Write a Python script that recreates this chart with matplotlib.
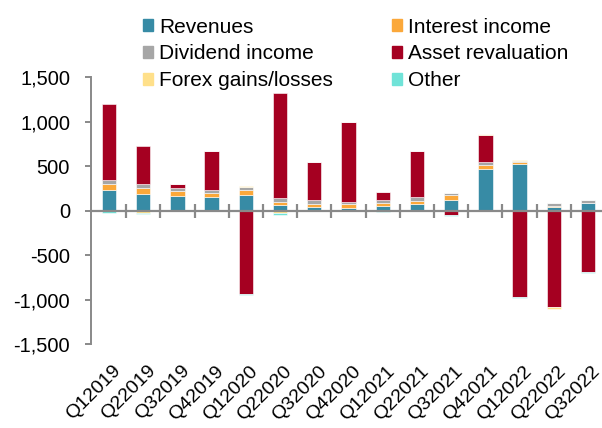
import matplotlib
matplotlib.use("Agg")
import matplotlib.pyplot as plt
import matplotlib.transforms as mtransforms
import numpy as np
from matplotlib.ticker import FuncFormatter, FixedLocator
from matplotlib.patches import Patch

plt.rcParams['font.family'] = ['Liberation Sans', 'DejaVu Sans']
plt.rcParams['axes.unicode_minus'] = False

quarters = ["Q12019", "Q22019", "Q32019", "Q42019", "Q12020", "Q22020", "Q32020",
            "Q42020", "Q12021", "Q22021", "Q32021", "Q42021", "Q12022", "Q22022", "Q32022"]

revenues = [234, 192, 169, 155, 181, 64, 41, 30, 53, 72, 124, 471, 531, 45, 90]
interest = [71, 64, 53, 48, 49, 38, 38, 42, 30, 37, 49, 45, 19, 5, 3]
dividend = [45, 49, 34, 31, 33, 45, 38, 30, 41, 45, 27, 34, 11, 38, 27]
asset_reval = [855, 421, 45, 443, -935, 1182, 436, 892, 83, 523, -49, 300, -972, -1084, -686]
forex = [-5, -25, 0, 0, 10, -30, 0, 0, 0, 0, 0, 8, 5, -20, 0]
other = [-15, -15, 0, 0, -8, -15, 0, 0, -10, 0, -8, 0, -8, 0, -8]

series = [
    ("Revenues", revenues, "#378BA5"),
    ("Interest income", interest, "#FBA83A"),
    ("Dividend income", dividend, "#A6A6A6"),
    ("Asset revaluation", asset_reval, "#A50021"),
    ("Forex gains/losses", forex, "#FFE08A"),
    ("Other", other, "#70E3D8"),
]

fig_w, fig_h = 6.02, 4.28
ax_rect = [0.151, 0.1956, 0.849, 0.6238]
fig = plt.figure(figsize=(fig_w, fig_h), dpi=100)
ax = fig.add_axes(ax_rect)

x = np.arange(len(quarters))
pos_base = np.zeros(len(quarters))
neg_base = np.zeros(len(quarters))
width = 0.42
for name, vals, col in series:
    v = np.array(vals, dtype=float)
    bottoms = np.where(v >= 0, pos_base, neg_base)
    ax.bar(x, v, width, bottom=bottoms, color=col, edgecolor='white', linewidth=0.4, zorder=2)
    pos_base = pos_base + np.where(v > 0, v, 0)
    neg_base = neg_base + np.where(v < 0, v, 0)

ymin, ymax = -1500, 1500
ax.set_ylim(ymin, ymax)
ax.set_xlim(-0.53, 14.41)
ax.set_yticks(np.arange(-1500, 1501, 500))
ax.yaxis.set_major_formatter(FuncFormatter(lambda v, p: f"{int(v):,}"))

spine_col = "#898989"
for s in ["top", "right"]:
    ax.spines[s].set_visible(False)
ax.spines["left"].set_color(spine_col)
ax.spines["left"].set_linewidth(1.4)
ax.spines["bottom"].set_position(('data', 0))
ax.spines["bottom"].set_color(spine_col)
ax.spines["bottom"].set_linewidth(1.6)
ax.spines["bottom"].set_zorder(5)
ax.tick_params(axis='y', direction='out', length=4, width=1.4, color=spine_col,
               labelsize=14.5, pad=11, labelcolor='black')

ax.set_xticks(x)
ax.set_xticks(np.arange(0.5, 14, 1.0), minor=True)
ax.set_xticklabels(quarters, rotation=45, ha='right', rotation_mode='anchor', fontsize=14)
ax.tick_params(axis='x', which='major', length=0, pad=13)
ax.tick_params(axis='x', which='minor', direction='inout', length=10, width=1.6,
               color=spine_col)

# move category labels from the zero line down to the bottom of the plot area
drop_in = (0 - ymin) / (ymax - ymin) * ax_rect[3] * fig_h
offset = mtransforms.ScaledTranslation(0.035, -drop_in, fig.dpi_scale_trans)
for lab in ax.get_xticklabels():
    lab.set_transform(lab.get_transform() + offset)

handles = [Patch(color=c) for _, _, c in series]
labels = [n for n, _, _ in series]
order = [0, 2, 4, 1, 3, 5]
fig.legend([handles[i] for i in order], [labels[i] for i in order],
           ncol=2, loc='upper left', bbox_to_anchor=(0.237, 0.959), frameon=False,
           fontsize=15, handlelength=0.5, handleheight=0.5, handletextpad=0.3,
           columnspacing=2.8, labelspacing=0.37, borderaxespad=0, borderpad=0)

fig.savefig("out.png", dpi=100)
